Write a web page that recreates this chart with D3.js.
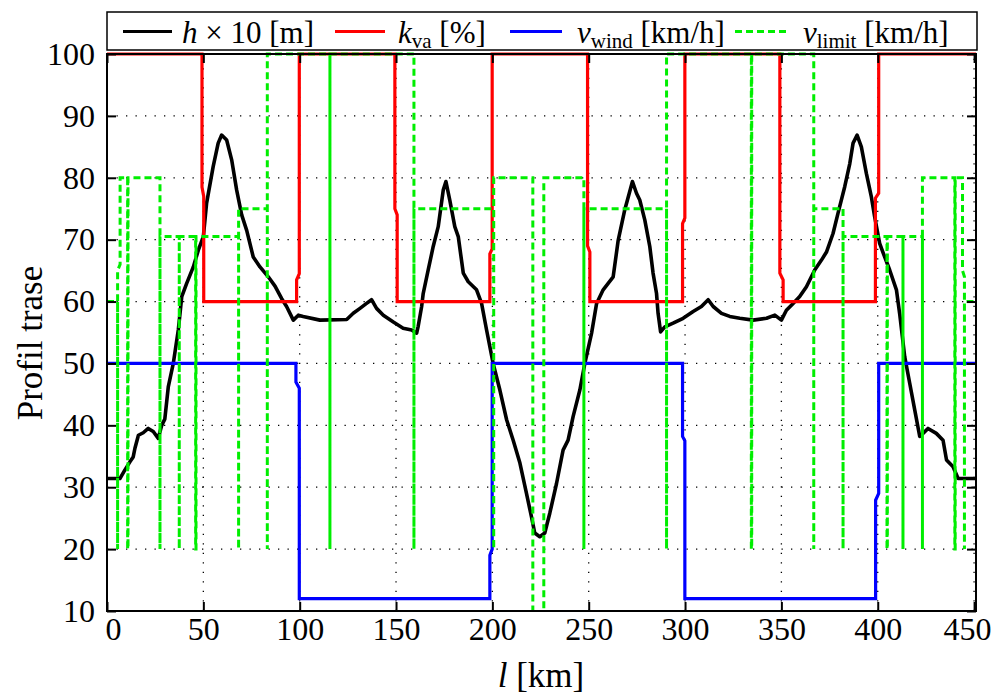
<!DOCTYPE html>
<html><head><meta charset="utf-8">
<script src="https://cdn.jsdelivr.net/npm/d3@7"></script>
<style>
body{margin:0;background:#fff}
svg{display:block}
text{font-family:"Liberation Serif","Times New Roman",serif;fill:#000}
</style>
</head><body>
<svg id="chart" width="1005" height="698"></svg>
<script>
// ---------- data ----------
const xTicks = [0,50,100,150,200,250,300,350,400,450];
const yTicks = [10,20,30,40,50,60,70,80,90,100];

// h x 10 [m]  (altitude profile)
const hKm  = [0,6.7,9.3,11.9,13.6,14.5,16.3,18.8,21.4,24,26.6,28.4,30,31.8,34.4,37,38.8,41.3,44.8,47.4,50,51.7,55.1,57.7,59.5,62.1,64.7,67.3,69.9,72.5,75.9,79.4,83.7,87.2,90.6,93.2,96.7,99.3,101.8,110.5,124.4,127.8,131.3,134.7,137.3,139.9,143.4,148.6,153.7,158.1,160.7,161.5,163.3,164.1,166.7,169.3,171.9,174.5,175.9,177.9,180.5,182.3,184.9,187.5,191.8,194.4,197,200.4,203.9,207.4,210.8,214.3,217.7,220.3,222,224.6,227.2,229.8,233.3,236.7,239.3,241.9,245.4,248,251.5,254.1,257.5,262.7,265.3,268.7,272.7,274.8,276.5,279.1,281.7,283.4,285.2,286,287.3,289.5,293.8,299,304.2,308.5,312,314.6,318.9,323.2,328.4,335.3,342.3,346.6,350,352.6,356.1,359.5,363,367.3,370.8,373.4,376.8,379.4,382.9,385.5,387.2,389.3,391.5,394.1,396.7,398.4,401,403.6,406.2,409.7,411.4,414,416.6,419.2,421.8,423.5,426.1,430.4,433.9,435.7,439.1,441.7,451];
const hVal = [31.4,31.4,32.8,34.1,34.9,36.3,38.4,38.8,39.5,39,37.9,40,41,46.2,50,55.4,60.8,62.9,65.6,68.3,70.5,75.9,81.8,85.6,86.9,86.1,82.9,78,74,71.5,67.2,65.6,64,62.5,60.5,59.2,57,57.8,57.6,57,57.1,58.1,58.9,59.7,60.3,58.9,57.8,56.7,55.7,55.4,54.9,56,59.2,61.3,65.1,68.9,72.1,78,79.4,76.4,72.1,70.5,64.6,63.2,61.9,59.7,55.4,50,45.7,40.9,37.6,33.9,29,25.2,22.6,22,22.6,25.8,30.6,36,37.6,41.4,45.7,50,54.9,59.7,61.9,64,69.9,74.8,79.4,77.5,76.4,73.2,68.9,64.6,61.3,58.1,55.1,55.9,56.5,57.3,58.4,59.2,60.3,59.2,58.1,57.6,57.3,57,57.3,57.8,57,58.6,59.7,60.8,62.4,65.1,66.7,68,71,74.3,78.6,82.3,85.6,86.9,85,80.7,76.9,73.7,69.4,67.2,65.1,61.9,58,51.1,46.8,42.5,38.2,38.7,39.5,38.7,37.6,34.4,33.3,31.4,31.4];

// k_va [%]
const kvaKm  = [0,49.3,49.3,50.2,50.2,98.4,98.4,99.8,99.8,149.4,149.4,150.6,150.6,198.7,198.7,199.9,199.9,249.4,249.4,250.6,250.6,298.7,298.7,299.9,299.9,349.2,349.2,350.9,350.9,398.8,398.8,400.5,400.5,451];
const kvaVal = [100,100,78.5,77,60,60,63.5,64.5,100,100,75,74,60,60,67.7,68.5,100,100,69,68,60,60,72.6,73.5,100,100,64.6,63.5,60,60,76.7,77.5,100,100];

// v_wind [km/h]
const windKm  = [0,98.05,98.05,99.8,99.8,198.7,198.7,199.9,199.9,298.7,298.7,299.9,299.9,398.9,398.9,400.5,400.5,451];
const windVal = [50,50,47,46,12,12,19,20,50,50,38.2,37.5,12,12,27.9,29,50,50];

// v_limit [km/h]
const limKm  = [0,5.5,5.5,5.5,6.8,6.8,10.7,10.7,10.9,10.9,27.5,27.5,27.5,37.5,37.5,37.5,46,46,46.2,46.2,68.3,68.3,68.3,83.2,83.2,83.2,115.7,115.7,115.7,159.3,159.3,159.3,200.7,200.7,200.7,221,221,226.7,226.7,247.5,247.5,247.5,290.4,290.4,290.4,334.4,334.4,334.6,334.6,366.8,366.8,366.8,382,382,382,404.8,404.8,405,405,413.1,413.1,413.1,423.2,423.2,423.2,440,440,440.2,440.2,444,444,445,445,445,451];
const limVal = [60,60,20,65,66,80,80,20,20,80,80,20,70.5,70.5,20,70.5,70.5,20,20,70.5,70.5,20,75,75,20,100,100,20,100,100,20,75,75,20,80,80,0,0,80,80,20,75,75,20,100,100,20,20,100,100,20,75,75,20,70.5,70.5,20,20,70.5,70.5,20,70.5,70.5,20,80,80,20,20,80,80,65,64,20,60,60];

// ---------- layout ----------
const svg = d3.select("#chart");
const L = 107, R = 976, T = 54, B = 611;
const x = d3.scaleLinear().domain([0, 451]).range([L, R]);
const y = d3.scaleLinear().domain([10, 100]).range([B, T]);

svg.append("defs").append("clipPath").attr("id","clip")
  .append("rect").attr("x",L).attr("y",T-2).attr("width",R-L).attr("height",B-T+2);

// grid
const grid = svg.append("g").attr("stroke","#000").attr("stroke-width",1.3).attr("stroke-dasharray","1.3,8.2");
grid.selectAll(".gx").data(xTicks.filter(d=>d>0)).enter().append("line")
  .attr("x1",d=>x(d)).attr("x2",d=>x(d)).attr("y1",B).attr("y2",T);
grid.selectAll(".gy").data(yTicks.filter(d=>d>10 && d<100)).enter().append("line")
  .attr("y1",d=>y(d)).attr("y2",d=>y(d)).attr("x1",L).attr("x2",R);

// series
const plotG = svg.append("g").attr("clip-path","url(#clip)");
const line = d3.line().x(d=>x(d[0])).y(d=>y(d[1]));
const zipS = (a,b)=>a.map((v,i)=>[v,b[i]]);
plotG.append("path").datum(zipS(hKm,hVal)).attr("d",line)
  .attr("fill","none").attr("stroke","#000").attr("stroke-width",3.6).attr("stroke-linejoin","round");
plotG.append("path").datum(zipS(kvaKm,kvaVal)).attr("d",line)
  .attr("fill","none").attr("stroke","#ff0000").attr("stroke-width",3.2);
plotG.append("path").datum(zipS(windKm,windVal)).attr("d",line)
  .attr("fill","none").attr("stroke","#0000ff").attr("stroke-width",3.2);
plotG.append("path").datum(zipS(limKm,limVal)).attr("d",line)
  .attr("fill","none").attr("stroke","#00ee00").attr("stroke-width",3).attr("stroke-dasharray","7,4");

// axes (inward ticks)
const fs = 32;
const axG = svg.append("g");
axG.append("g").attr("transform",`translate(${L},0)`)
  .call(d3.axisLeft(y).tickValues(yTicks).tickSize(-9).tickSizeOuter(0).tickPadding(12).tickFormat(d3.format("d")));
axG.append("g").attr("transform",`translate(${R},0)`)
  .call(d3.axisRight(y).tickValues(yTicks).tickSize(-9).tickSizeOuter(0).tickFormat(""));
const bAx = axG.append("g").attr("transform",`translate(0,${B})`)
  .call(d3.axisBottom(x).tickValues(xTicks).tickSize(-9).tickSizeOuter(0).tickPadding(6).tickFormat(d3.format("d")));
axG.append("g").attr("transform",`translate(0,${T})`)
  .call(d3.axisTop(x).tickValues(xTicks).tickSize(-9).tickSizeOuter(0).tickFormat(""));
axG.selectAll(".domain").remove();
axG.selectAll(".tick line").attr("stroke","#000").attr("stroke-width",2);
axG.selectAll(".tick text").attr("font-family","Liberation Serif").attr("font-size",fs).attr("fill","#000");
bAx.selectAll(".tick text").attr("dx",d=>d===0?6:(d===450?-7:0));
svg.append("rect").attr("x",L).attr("y",T).attr("width",R-L).attr("height",B-T)
  .attr("fill","none").attr("stroke","#000").attr("stroke-width",2);

// axis titles
svg.append("text").attr("transform","translate(42,343) rotate(-90)").attr("text-anchor","middle")
  .attr("font-size",35).text("Profil trase");
const xl = svg.append("text").attr("x",541).attr("y",687).attr("text-anchor","middle").attr("font-size",35);
xl.append("tspan").attr("font-style","italic").text("l");
xl.append("tspan").text(" [km]");

// legend
const lg = svg.append("g");
lg.append("rect").attr("x",107).attr("y",12).attr("width",870).attr("height",38)
  .attr("fill","#fff").attr("stroke","#000").attr("stroke-width",1.5);
const legItems = [
  {x1:123,x2:172,tx:182,color:"#000",dash:null,main:"h",sub:null,rest:" × 10 [m]"},
  {x1:335,x2:385,tx:398,color:"#ff0000",dash:null,main:"k",sub:"va",rest:" [%]"},
  {x1:510,x2:562,tx:577,color:"#0000ff",dash:null,main:"v",sub:"wind",rest:" [km/h]"},
  {x1:735,x2:787,tx:803,color:"#00ee00",dash:"7,4",main:"v",sub:"limit",rest:" [km/h]"}
];
legItems.forEach(it=>{
  lg.append("line").attr("x1",it.x1).attr("x2",it.x2).attr("y1",31.5).attr("y2",31.5)
    .attr("stroke",it.color).attr("stroke-width",3).attr("stroke-dasharray",it.dash);
  const t = lg.append("text").attr("x",it.tx).attr("y",43).attr("font-size",31);
  t.append("tspan").attr("font-style","italic").text(it.main);
  if(it.sub){
    t.append("tspan").attr("font-size",21).attr("dy",5).text(it.sub);
    t.append("tspan").attr("dy",-5).text(it.rest);
  } else t.append("tspan").text(it.rest);
});
</script>
</body></html>
